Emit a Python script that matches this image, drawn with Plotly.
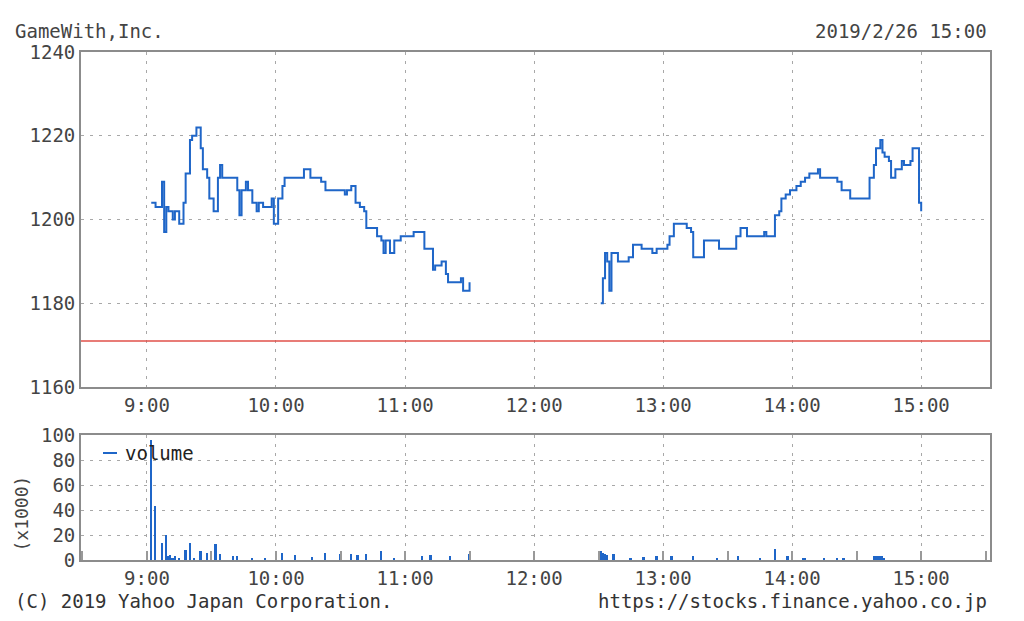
"""
Intraday price and volume chart for GameWith,Inc. (2019/2/26)
"""

import plotly.graph_objects as go

DAY = '2019-02-26 '

# Price steps (time, price); None marks the lunch break gap
price_times = [
    '09:02', '09:04', '09:07', '09:08', '09:09', '09:10', '09:12', '09:13', '09:15',
    '09:17', '09:18', '09:20', '09:21', '09:23', '09:25', '09:26', '09:28', '09:29',
    '09:31', '09:33', '09:34', '09:35', '09:42', '09:43', '09:44', '09:46', '09:47',
    '09:49', '09:51', '09:52', '09:54', '09:58', '09:59', '10:01', '10:03', '10:04',
    '10:13', '10:16', '10:21', '10:23', '10:32', '10:33', '10:35', '10:37', '10:39',
    '10:41', '10:42', '10:47', '10:49', '10:50', '10:51', '10:53', '10:55', '10:58',
    '11:04', '11:09', '11:13', '11:14', '11:17', '11:19', '11:20', '11:26', '11:27',
    '11:30',
    '12:00',
    '12:31', '12:32', '12:33', '12:34', '12:35', '12:36', '12:39', '12:44', '12:46',
    '12:50', '12:55', '12:57', '13:02', '13:03', '13:05', '13:11', '13:13', '13:14',
    '13:19', '13:26', '13:34', '13:36', '13:39', '13:47', '13:48', '13:52', '13:54',
    '13:55', '13:57', '13:59', '14:02', '14:04', '14:06', '14:08', '14:12', '14:13',
    '14:21', '14:23', '14:27', '14:36', '14:38', '14:39', '14:41', '14:42', '14:43',
    '14:45', '14:46', '14:48', '14:51', '14:52', '14:55', '14:56', '14:59', '15:00',
]
prices = [
    1204, 1203, 1209, 1197, 1203, 1202, 1200, 1202, 1199,
    1204, 1211, 1219, 1220, 1222, 1217, 1212, 1210, 1205,
    1202, 1210, 1213, 1210, 1207, 1201, 1207, 1209, 1207,
    1204, 1202, 1204, 1203, 1205, 1199, 1205, 1208, 1210,
    1212, 1210, 1209, 1207, 1206, 1207, 1208, 1204, 1203,
    1202, 1198, 1196, 1195, 1192, 1195, 1192, 1195, 1196,
    1197, 1193, 1188, 1189, 1190, 1187, 1185, 1186, 1183,
    1185,
    None,
    1180, 1186, 1192, 1190, 1183, 1192, 1190, 1191, 1194,
    1193, 1192, 1193, 1194, 1196, 1199, 1198, 1197, 1191,
    1195, 1193, 1196, 1198, 1196, 1197, 1196, 1201, 1202,
    1205, 1206, 1207, 1208, 1209, 1210, 1211, 1212, 1210,
    1209, 1207, 1205, 1210, 1213, 1217, 1219, 1216, 1215,
    1214, 1210, 1212, 1214, 1213, 1214, 1217, 1204, 1202,
]

prev_close = 1171

# Volume (x1000 shares)
volume_times = [
    '09:02', '09:04', '09:07', '09:09', '09:10', '09:11', '09:12', '09:13', '09:15',
    '09:18', '09:20', '09:22', '09:25', '09:28', '09:32', '09:34', '09:40', '09:42',
    '09:49', '09:55', '10:03', '10:09', '10:17', '10:23', '10:30', '10:35', '10:38',
    '10:42', '10:49', '10:55', '11:08', '11:12', '11:21', '11:30',
    '12:31', '12:32', '12:33', '12:34', '12:37', '12:45', '12:51', '12:57', '13:04',
    '13:14', '13:25', '13:35', '13:45', '13:52', '13:58', '14:05', '14:06', '14:15',
    '14:21', '14:24', '14:38', '14:39', '14:40', '14:41', '14:42', '14:43',
]
volumes = [
    96, 43, 14, 20, 3, 4, 2, 3, 2,
    8, 14, 2, 7.5, 6, 12.5, 5, 3, 3,
    2, 1, 6, 4, 2.7, 6, 5, 5, 4,
    5, 7, 1, 3, 4, 3, 5,
    7.5, 6, 5, 4, 5, 1, 2.7, 3, 3,
    3, 1, 3, 1, 9, 3, 2, 2, 2,
    2, 2, 3, 3, 3, 3, 3, 2,
]

hour_ticks = ['09:00', '10:00', '11:00', '12:00', '13:00', '14:00', '15:00']
hour_labels = ['9:00', '10:00', '11:00', '12:00', '13:00', '14:00', '15:00']
half_hour_ticks = ['08:30', '09:30', '10:30', '11:30', '12:30', '13:30', '14:30', '15:30']

FONT = 'DejaVu Sans Mono'
TEXT = '#444444'
BLUE = '#1f66c8'
FRAME = '#8c8c8c'
GRID = '#a8a8a8'

W, H = 1024, 621
PAGE_OFFSET = 8  # the page body margin shifts the figure


def px_x(x):
    return (x - PAGE_OFFSET) / W


def px_y(y):
    return 1 - (y - PAGE_OFFSET) / H


x_range = [DAY + '08:29:20', DAY + '15:32:00']

fig = go.Figure()

fig.add_trace(go.Scatter(
    x=[DAY + t for t in price_times],
    y=prices,
    mode='lines',
    line=dict(color=BLUE, width=2, shape='hv'),
    connectgaps=False,
    showlegend=False,
    xaxis='x', yaxis='y',
))

fig.add_trace(go.Scatter(
    x=x_range,
    y=[prev_close, prev_close],
    mode='lines',
    line=dict(color='#e0504a', width=1.5),
    showlegend=False,
    xaxis='x', yaxis='y',
))

fig.add_trace(go.Bar(
    x=[DAY + t for t in volume_times],
    y=volumes,
    width=60000 * 0.8,
    marker=dict(color=BLUE, line=dict(width=0)),
    showlegend=False,
    xaxis='x2', yaxis='y2',
))

axis_common = dict(
    showline=True, linecolor=FRAME, linewidth=1.8, mirror=True,
    showgrid=True, gridcolor=GRID, gridwidth=1.2, griddash='3px,6px',
    zeroline=False, automargin=False,
    tickfont=dict(family=FONT, size=19, color=TEXT),
)

xaxis_common = dict(
    axis_common,
    type='date',
    range=x_range,
    tickvals=[DAY + t for t in hour_ticks],
    ticktext=hour_labels,
    domain=[px_x(81), px_x(990)],
)

fig.update_layout(
    width=W, height=H,
    margin=dict(l=0, r=0, t=0, b=0),
    paper_bgcolor='white', plot_bgcolor='white',
    bargap=0,
    xaxis=dict(xaxis_common, anchor='y', ticks=''),
    yaxis=dict(axis_common, range=[1160, 1240], dtick=20, ticks='',
               domain=[px_y(387), px_y(52)], anchor='x'),
    xaxis2=dict(xaxis_common, anchor='y2',
                ticks='inside', ticklen=9, tickcolor='#999999', tickwidth=1.5,
                minor=dict(ticks='inside', ticklen=9, tickcolor='#999999', tickwidth=1.5,
                           tickmode='array',
                           tickvals=[DAY + t for t in half_hour_ticks],
                           showgrid=False)),
    yaxis2=dict(axis_common, range=[0, 100], dtick=20, ticks='',
                domain=[px_y(560), px_y(435)], anchor='x2'),
    shapes=[
        # legend sample line for the volume series
        dict(type='line', xref='paper', yref='paper',
             x0=px_x(103), x1=px_x(117), y0=px_y(453), y1=px_y(453),
             line=dict(color=BLUE, width=2)),
    ],
    annotations=[
        dict(text='GameWith,Inc.', x=px_x(13), y=px_y(31), xref='paper', yref='paper',
             xanchor='left', yanchor='middle', showarrow=False,
             font=dict(family=FONT, size=19, color=TEXT)),
        dict(text='2019/2/26 15:00', x=px_x(989), y=px_y(31), xref='paper', yref='paper',
             xanchor='right', yanchor='middle', showarrow=False,
             font=dict(family=FONT, size=19, color=TEXT)),
        dict(text='(C) 2019 Yahoo Japan Corporation.', x=px_x(13), y=px_y(601),
             xref='paper', yref='paper', xanchor='left', yanchor='middle', showarrow=False,
             font=dict(family=FONT, size=19, color='#333333')),
        dict(text='https://stocks.finance.yahoo.co.jp', x=px_x(989), y=px_y(601),
             xref='paper', yref='paper', xanchor='right', yanchor='middle', showarrow=False,
             font=dict(family=FONT, size=19, color='#333333')),
        dict(text='(x1000)', x=px_x(8), y=px_y(514), xref='paper', yref='paper',
             xanchor='left', yanchor='middle', textangle=-90, showarrow=False,
             font=dict(family=FONT, size=18, color=TEXT)),
        dict(text='volume', x=px_x(123), y=px_y(453), xref='paper', yref='paper',
             xanchor='left', yanchor='middle', showarrow=False,
             font=dict(family=FONT, size=19, color='#222222')),
    ],
)

fig.write_html('out.html')
